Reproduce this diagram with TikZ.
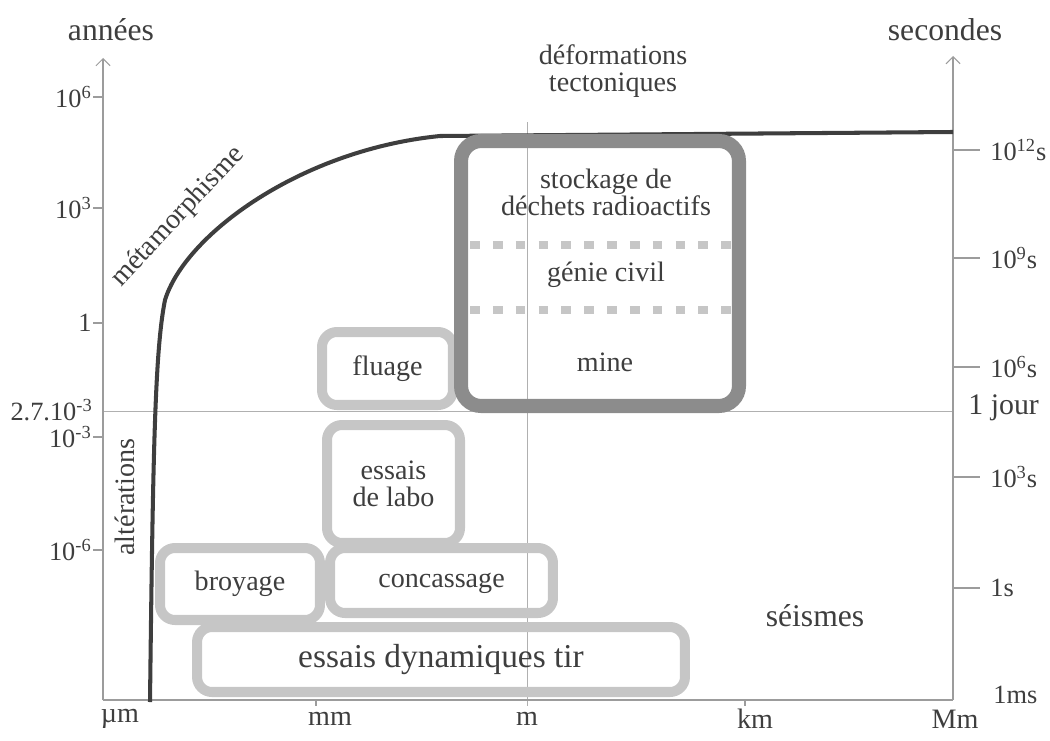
\documentclass[tikz,border=0pt]{standalone}
\usepackage{fontspec}
\setmainfont{Liberation Serif}
\usetikzlibrary{arrows.meta,positioning}
\definecolor{ink}{HTML}{3E3E3E}
\definecolor{axisgray}{HTML}{9C9C9C}
\definecolor{zonegray}{HTML}{C6C6C6}
\definecolor{zonedark}{HTML}{8C8C8C}

\begin{document}
\begin{tikzpicture}[x=0.02cm, y=-0.02cm,
    txt/.style={text=ink, align=center, inner sep=0pt,
                font=\fontsize{16}{15.5}\selectfont},
    ticklbl/.style={text=ink, inner sep=0pt, font=\fontsize{15}{17}\selectfont},
    title/.style={text=ink, inner sep=0pt, font=\fontsize{18}{20}\selectfont},
    oneline/.style={text height=12pt, text depth=4.6pt},
    zone/.style={txt, draw=zonegray, line width=5.7pt, rounded corners=0.3cm},
    bigzone/.style={draw=zonedark, line width=8pt, rounded corners=0.4cm},
    axis/.style={draw=axisgray, line width=0.6pt},
    guide/.style={draw=axisgray!80, line width=0.5pt},
    sep/.style={draw=zonegray, line width=5pt, dash pattern=on 5.5pt off 7.5pt},
    curve/.style={draw=ink, line width=2.3pt},
  ]
  \useasboundingbox (0,0) rectangle (1050,740);

  % axes
  \coordinate (o) at (103,700);
  \coordinate (ltop) at (103,58);
  \coordinate (r0) at (953,700);
  \coordinate (rtop) at (953,56);
  \draw[guide] (103,411) -- (953,411);
  \draw[guide] (527,122) -- (527,706);
  \draw[axis, -{Straight Barb[length=4pt]}] (o) -- (ltop);
  \draw[axis, -{Straight Barb[length=4pt]}] (r0) -- (rtop);
  \draw[axis] (o) -- (r0);
  \draw[axis] (316,700) -- (316,706);
  \draw[axis] (745,700) -- (745,706);

  \node[title] (annees) at (111,30) {années};
  \node[title] (secondes) at (945,30) {secondes};

  \foreach \y/\e in {97/6, 208/3, 437/-3, 550/-6} {
    \draw[axis] (93,\y) -- (103,\y);
    \node[ticklbl, anchor=east] (l\y) at (92,\y) {10\textsuperscript{\e}};
  }
  \draw[axis] (93,323) -- (103,323);
  \node[ticklbl, anchor=east] (lone) at (92,323) {1};
  \node[ticklbl, anchor=east] (ljour) at (93,410) {2.7.10\textsuperscript{-3}};

  \foreach \y/\e in {150/12, 258/9, 367/6, 477/3} {
    \draw[axis] (953,\y) -- (980,\y);
    \node[ticklbl, anchor=west] (r\y) at (990,\y) {10\textsuperscript{\e}s};
  }
  \draw[axis] (953,588) -- (980,588);
  \node[ticklbl, anchor=west] (rs) at (990,588) {1s};
  \node[ticklbl, anchor=west, font=\fontsize{17}{19}\selectfont] (rjour) at (968,408) {1 jour};
  \node[ticklbl, anchor=west] (rms) at (993,695) {1ms};

  \foreach \x/\u in {120/µm, 330/mm, 527/m, 755/km, 955/Mm}
    \node[txt] (u\x) at (\x,719) {\u};

  % time limit curve
  \draw[curve] (150,702) .. controls (153,450) and (155,350) .. (165,300)
    .. controls (185,235) and (300,150) .. (440,136) -- (953,132);
  \node[txt, rotate=47] (meta) at (178,217) {métamorphisme};
  \node[txt, rotate=90] (alter) at (125,497) {altérations};
  \node[txt] (tecto) at (613,71) {déformations\\tectoniques};

  % domains
  \node[zone, oneline, minimum width=2.62cm, minimum height=1.46cm] (fluage) at (387.5,368.5) {fluage};
  \node[zone, minimum width=2.66cm, minimum height=2.36cm] (labo) at (393.5,484) {essais\\de labo};
  \node[zone, oneline, minimum width=3.2cm, minimum height=1.44cm] (broyage) at (240,584) {broyage};
  \node[zone, oneline, minimum width=4.46cm, minimum height=1.3cm] (concas) at (441.5,580.5) {concassage};
  \node[zone, minimum width=9.76cm, minimum height=1.3cm, text height=14pt, text depth=5.3pt,
        font=\fontsize{19}{21}\selectfont] (tir) at (441,659.5) {essais dynamiques tir};

  \node[bigzone, minimum width=5.56cm, minimum height=5.3cm] (ouvrages) at (600,273.5) {};
  \draw[sep] (470,245) -- (736,245);
  \draw[sep] (470,310) -- (736,310);
  \node[txt] (stockage) at (606,192) {stockage de\\déchets radioactifs};
  \node[txt, oneline] (genie) at (606,275) {génie civil};
  \node[txt, oneline] (mine) at (605,365) {mine};

  \node[title] (seismes) at (815,616) {séismes};
\end{tikzpicture}
\end{document}
